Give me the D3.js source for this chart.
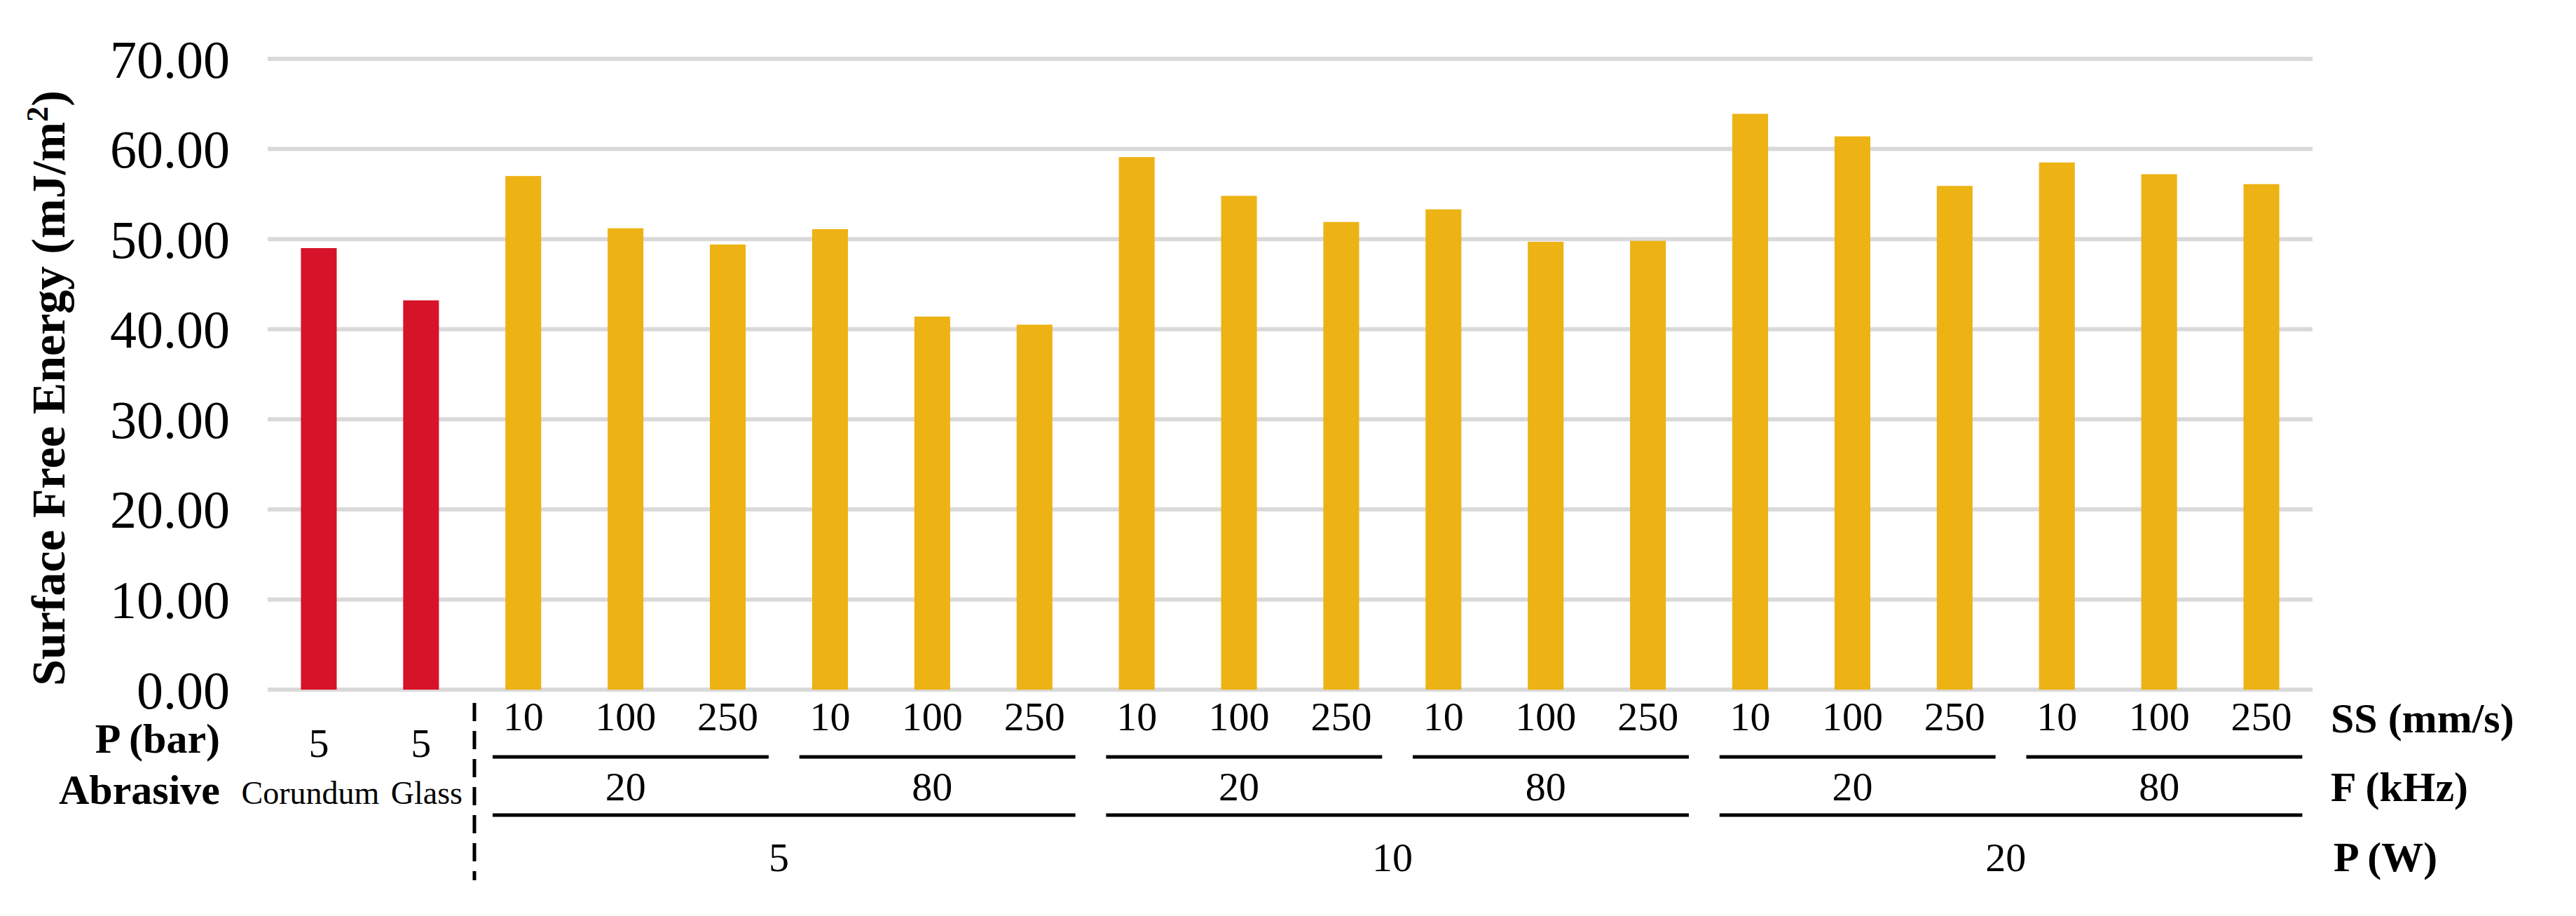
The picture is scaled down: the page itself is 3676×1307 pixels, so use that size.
<!DOCTYPE html>
<html><head><meta charset="utf-8">
<script src="https://cdn.jsdelivr.net/npm/d3@7"></script>
<style>body{margin:0;background:#fff}text{font-family:"Liberation Serif",serif;fill:#000}</style>
</head><body><svg id="chart"></svg>
<script>
var values = [49.0, 43.2, 57.0, 51.2, 49.4, 51.1, 41.4, 40.5, 59.1, 54.8, 51.9, 53.3, 49.7, 49.8, 63.9, 61.4, 55.9, 58.5, 57.2, 56.1];
var ssLabels = ['', '', '10', '100', '250', '10', '100', '250', '10', '100', '250', '10', '100', '250', '10', '100', '250', '10', '100', '250'];
var pBarLabels = ['5', '5'];
var abrasiveLabels = ['Corundum', 'Glass'];
// groups as [first index, last index, label]
var fGroups = [[2, 4, '20'], [5, 7, '80'], [8, 10, '20'], [11, 13, '80'], [14, 16, '20'], [17, 19, '80']];
var pGroups = [[2, 7, '5'], [8, 13, '10'], [14, 19, '20']];
var yTicks = [0, 10, 20, 30, 40, 50, 60, 70];

var W = 3676, H = 1307;
var margin = {left: 382, right: 376, top: 84, bottom: 323};
var svg = d3.select('#chart').attr('width', W).attr('height', H);
var x = d3.scaleBand().domain(d3.range(values.length)).range([margin.left, W - margin.right]).paddingInner(0.65).paddingOuter(0.325);
var y = d3.scaleLinear().domain([0, 70]).range([H - margin.bottom, margin.top]);
var step = x.step();
function cx(i){ return x(i) + x.bandwidth() / 2; }

// grid
svg.append('g').selectAll('line').data(yTicks).enter().append('line')
	.attr('x1', margin.left).attr('x2', W - margin.right)
	.attr('y1', function(d){ return y(d); }).attr('y2', function(d){ return y(d); })
	.attr('stroke', '#d9d9d9').attr('stroke-width', 6);
svg.append('g').selectAll('text').data(yTicks).enter().append('text')
	.attr('x', 328).attr('y', function(d){ return y(d); }).attr('dy', '0.35em')
	.attr('text-anchor', 'end').style('font-size', '76px')
	.text(function(d){ return d.toFixed(2); });

svg.append('text').attr('transform', 'translate(92,' + (margin.top + (H - margin.bottom - margin.top) / 2 + 20) + ') rotate(-90)')
	.attr('text-anchor', 'middle').style('font-size', '68px').style('font-weight', 'bold')
	.html('Surface Free Energy (mJ/m<tspan baseline-shift="super" font-size="44px">2</tspan>)');

// bars
svg.append('g').selectAll('rect').data(values).enter().append('rect')
	.attr('x', function(d, i){ return x(i); }).attr('width', x.bandwidth())
	.attr('y', function(d){ return y(d); }).attr('height', function(d){ return y(0) - y(d); })
	.attr('fill', function(d, i){ return i < 2 ? '#d7132a' : '#edb214'; });

// category rows
var fs = '58px';
svg.append('g').selectAll('text').data(ssLabels).enter().append('text')
	.attr('x', function(d, i){ return cx(i); }).attr('y', 1042).attr('text-anchor', 'middle')
	.style('font-size', fs).text(function(d){ return d; });
svg.append('g').selectAll('text').data(pBarLabels).enter().append('text')
	.attr('x', function(d, i){ return cx(i); }).attr('y', 1080).attr('text-anchor', 'middle')
	.style('font-size', fs).text(function(d){ return d; });
svg.append('g').selectAll('text').data(abrasiveLabels).enter().append('text')
	.attr('x', function(d, i){ return cx(i) + (i ? 8 : -12); }).attr('y', 1147).attr('text-anchor', 'middle')
	.style('font-size', '46px').text(function(d){ return d; });

function groupRow(groups, lineY, textY){
	var g = svg.append('g');
	g.selectAll('line').data(groups).enter().append('line')
		.attr('x1', function(d){ return cx(d[0]) - 0.3 * step; })
		.attr('x2', function(d){ return cx(d[1]) + 0.4 * step; })
		.attr('y1', lineY).attr('y2', lineY).attr('stroke', '#000').attr('stroke-width', 5);
	g.selectAll('text').data(groups).enter().append('text')
		.attr('x', function(d){ return (cx(d[0]) + cx(d[1])) / 2; }).attr('y', textY)
		.attr('text-anchor', 'middle').style('font-size', fs).text(function(d){ return d[2]; });
}
groupRow(fGroups, 1080, 1142);
groupRow(pGroups, 1163, 1243);

// dashed separator
svg.append('line').attr('x1', 677).attr('x2', 677).attr('y1', 1003).attr('y2', 1256)
	.attr('stroke', '#000').attr('stroke-width', 5).attr('stroke-dasharray', '26,14');

// row labels
var rowLabels = [
	{t: 'P (bar)', x: 314, y: 1074, a: 'end'},
	{t: 'Abrasive', x: 314, y: 1147, a: 'end'},
	{t: 'SS (mm/s)', x: 3326, y: 1045, a: 'start'},
	{t: 'F (kHz)', x: 3326, y: 1143, a: 'start'},
	{t: 'P (W)', x: 3330, y: 1243, a: 'start'}
];
svg.append('g').selectAll('text').data(rowLabels).enter().append('text')
	.attr('x', function(d){ return d.x; }).attr('y', function(d){ return d.y; })
	.attr('text-anchor', function(d){ return d.a; })
	.style('font-size', '60px').style('font-weight', 'bold').text(function(d){ return d.t; });
</script></body></html>
